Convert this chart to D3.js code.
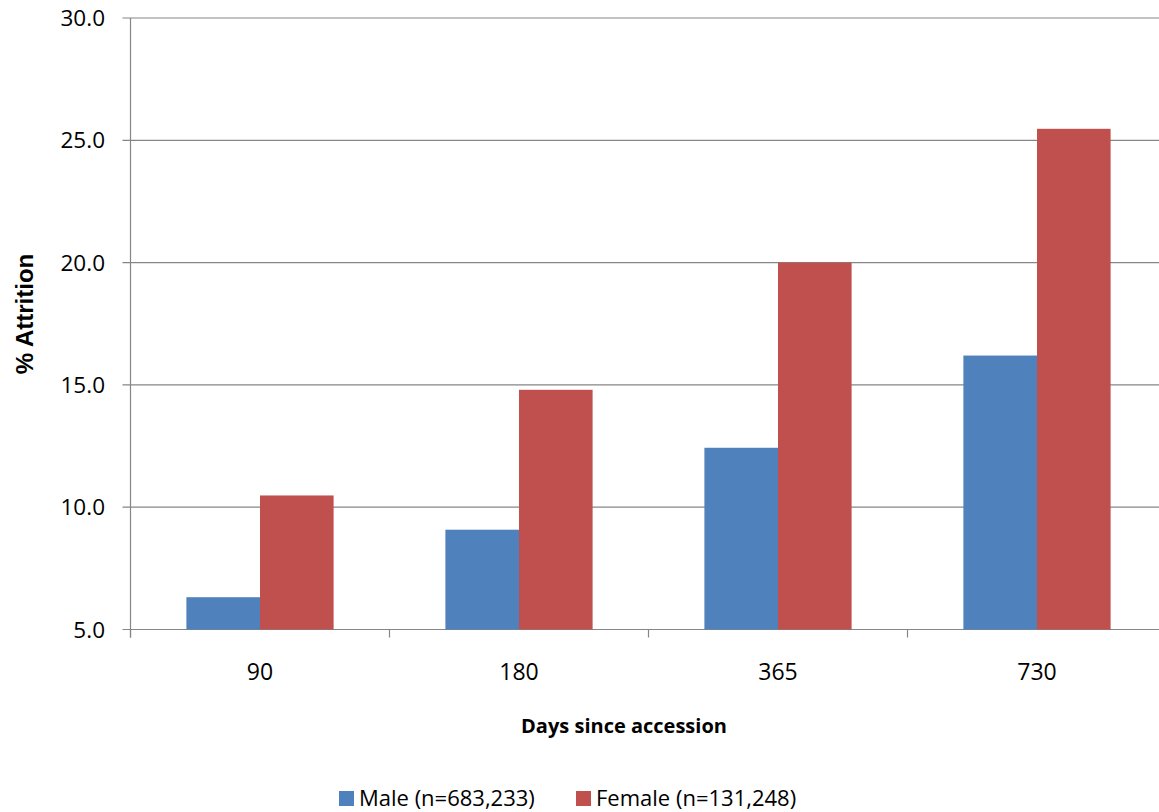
<!DOCTYPE html>
<html>
<head>
<meta charset="utf-8">
<title>Attrition by days since accession</title>
<script src="https://cdn.jsdelivr.net/npm/d3@7"></script>
<style>
  body { margin: 0; background: #fff; }
  text { font-family: "Open Sans", sans-serif; fill: #000; }
</style>
</head>
<body>
<script>
// data
var categories = ["90", "180", "365", "730"];
var seriesNames = ["Male (n=683,233)", "Female (n=131,248)"];
var maleValues = [6.32, 9.08, 12.43, 16.2];
var femaleValues = [10.48, 14.8, 20.0, 25.47];
var yTicks = [5, 10, 15, 20, 25, 30];
var colors = ["#4F81BD", "#C0504D"];

var W = 1159, H = 812;
var plotLeft = 130.5, plotTop = 18, plotBottom = 629.5;
var bandW = 259;

var svg = d3.select("body").append("svg")
    .attr("width", W)
    .attr("height", H);

var x0 = d3.scaleBand()
    .domain(categories)
    .range([plotLeft, plotLeft + bandW * categories.length])
    .padding(0);

var gap = x0.bandwidth() * 0.2158;
var x1 = d3.scaleBand()
    .domain([0, 1])
    .range([gap, x0.bandwidth() - gap])
    .padding(0);

var y = d3.scaleLinear().domain([5, 30]).range([plotBottom, plotTop]);

// gridlines
svg.append("g")
    .selectAll("line")
    .data(yTicks)
    .enter()
    .append("line")
    .attr("x1", plotLeft - 8)
    .attr("x2", W)
    .attr("y1", function(d){ return y(d); })
    .attr("y2", function(d){ return y(d); })
    .attr("stroke", "#868686")
    .attr("stroke-width", 1.2);

// y tick labels
svg.append("g")
    .selectAll("text")
    .data(yTicks)
    .enter()
    .append("text")
    .attr("x", 105)
    .attr("y", function(d){ return y(d); })
    .attr("dy", "0.36em")
    .attr("text-anchor", "end")
    .style("font-size", "22.5px")
    .text(function(d){ return d.toFixed(1); });

// bars
var rows = categories.map(function(c, i){
    return { cat: c, vals: [maleValues[i], femaleValues[i]] };
});

var groups = svg.selectAll("g.cat")
    .data(rows)
    .enter()
    .append("g")
    .attr("class", "cat")
    .attr("transform", function(d){ return "translate(" + x0(d.cat) + ",0)"; });

groups.selectAll("rect")
    .data(function(d){ return d.vals; })
    .enter()
    .append("rect")
    .attr("x", function(d, i){ return x1(i); })
    .attr("width", x1.bandwidth())
    .attr("y", function(d){ return y(d); })
    .attr("height", function(d){ return y(5) - y(d); })
    .attr("fill", function(d, i){ return colors[i]; });

// y axis line
svg.append("line")
    .attr("x1", plotLeft).attr("x2", plotLeft)
    .attr("y1", plotTop).attr("y2", plotBottom + 8)
    .attr("stroke", "#868686")
    .attr("stroke-width", 1.2);

// x axis ticks (category boundaries)
var bounds = d3.range(categories.length + 1).map(function(i){ return plotLeft + i * x0.bandwidth(); });
svg.append("g")
    .selectAll("line")
    .data(bounds)
    .enter()
    .append("line")
    .attr("x1", function(d){ return d; })
    .attr("x2", function(d){ return d; })
    .attr("y1", plotBottom)
    .attr("y2", plotBottom + 8)
    .attr("stroke", "#868686")
    .attr("stroke-width", 1.2);

// x tick labels
svg.append("g")
    .selectAll("text")
    .data(categories)
    .enter()
    .append("text")
    .attr("x", function(d){ return x0(d) + x0.bandwidth() / 2; })
    .attr("y", 679.5)
    .attr("text-anchor", "middle")
    .style("font-size", "23px")
    .text(function(d){ return d; });

// axis titles
svg.append("text")
    .attr("x", 624)
    .attr("y", 733)
    .attr("text-anchor", "middle")
    .style("font-size", "20px")
    .style("font-weight", "bold")
    .text("Days since accession");

svg.append("text")
    .attr("transform", "translate(33,314) rotate(-90)")
    .attr("text-anchor", "middle")
    .style("font-family", "'Liberation Sans', Arial, sans-serif")
    .style("font-size", "24px")
    .style("font-weight", "bold")
    .text("% Attrition");

// legend
var legendX = [339, 576];
var legend = svg.selectAll("g.legend")
    .data(seriesNames)
    .enter()
    .append("g")
    .attr("class", "legend")
    .attr("transform", function(d, i){ return "translate(" + legendX[i] + ",791)"; });

legend.append("rect")
    .attr("width", 15)
    .attr("height", 15)
    .attr("fill", function(d, i){ return colors[i]; });

legend.append("text")
    .attr("x", 20)
    .attr("y", 14.5)
    .style("font-size", "22px")
    .text(function(d){ return d; });
</script>
</body>
</html>
